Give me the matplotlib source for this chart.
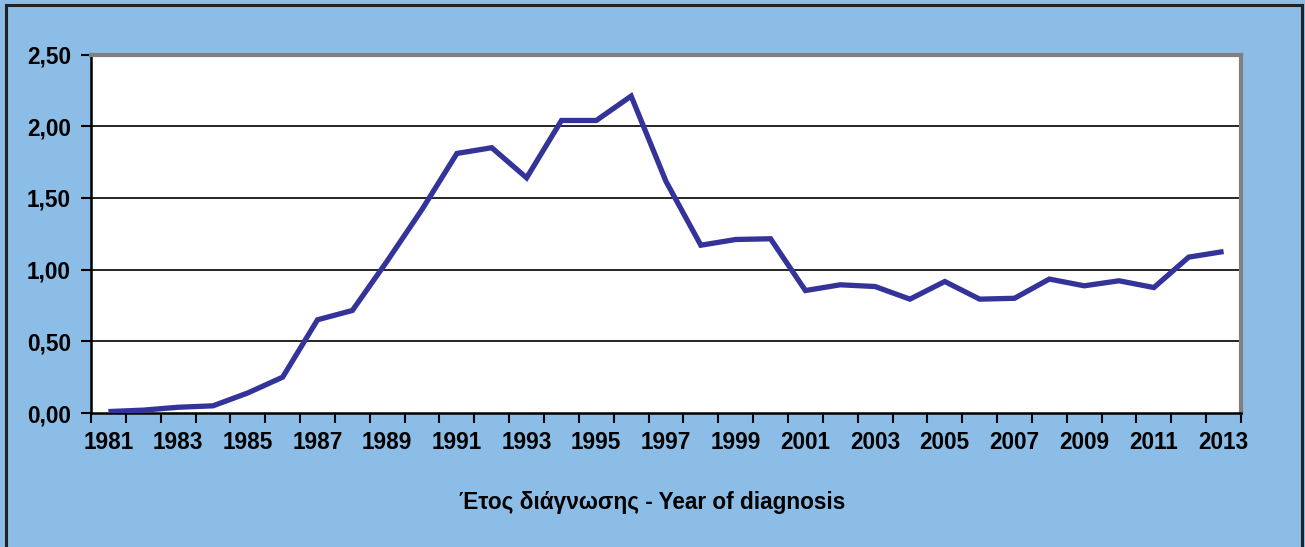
import matplotlib.pyplot as plt
from matplotlib.patches import Rectangle
import numpy as np

years = list(range(1981, 2014))
rates = [0.01, 0.02, 0.04, 0.05, 0.14, 0.25, 0.65, 0.715, 1.06, 1.42,
         1.81, 1.85, 1.64, 2.04, 2.04, 2.21, 1.615, 1.17, 1.21, 1.215,
         0.854, 0.894, 0.882, 0.794, 0.917, 0.794, 0.80, 0.934, 0.887, 0.922,
         0.875, 1.087, 1.126]
y_ticks = [0.0, 0.5, 1.0, 1.5, 2.0, 2.5]
y_labels = ["0,00", "0,50", "1,00", "1,50", "2,00", "2,50"]
x_label = "Έτος διάγνωσης - Year of diagnosis"

bg = "#8BBDE6"
plt.rcParams['font.family'] = ['Liberation Sans', 'DejaVu Sans']
plt.rcParams['font.weight'] = 'bold'

W, H = 1305, 547
fig = plt.figure(figsize=(W / 100, H / 100), dpi=100)
fig.patch.set_facecolor(bg)
# outer frame of the chart area
fig.patches.append(Rectangle((6 / W, -0.05), (1302 - 6) / W, 1.05 - 5 / H,
                             transform=fig.transFigure, fill=False,
                             edgecolor="#222222", linewidth=2.2))

ax = fig.add_axes([91 / W, (H - 413) / H, (1241 - 91) / W, (413 - 54.5) / H])
ax.set_facecolor("white")

for yv in y_ticks[1:]:
    ax.axhline(yv, color="black", linewidth=1.2, zorder=1)

ax.plot(years, rates, color="#333399", linewidth=3.8, zorder=3,
        solid_joinstyle="miter", solid_capstyle="butt")

fs = 16.3
ax.set_xlim(1980.5, 2013.5)
ax.set_ylim(0, 2.5)
ax.set_yticks(y_ticks)
ax.set_yticklabels(y_labels, fontsize=fs, fontweight='bold')
ax.set_xticks(years[::2])
ax.set_xticklabels([str(y) for y in years[::2]], fontsize=fs, fontweight='bold')
ax.set_xticks(np.arange(1980.5, 2014, 1), minor=True)
ax.tick_params(axis='x', which='major', length=0, pad=13)
ax.tick_params(axis='x', which='minor', length=7, width=1.5, direction='out')
ax.tick_params(axis='y', length=7, width=1.5, direction='out', pad=7.5)

for side in ['left', 'bottom']:
    ax.spines[side].set_color("black")
    ax.spines[side].set_linewidth(1.8)
for side in ['top', 'right']:
    ax.spines[side].set_color("#808080")
    ax.spines[side].set_linewidth(3)

fig.text(652 / W, 1 - 503 / H, x_label, ha='center', va='center',
         fontsize=fs, fontweight='bold')

fig.savefig("out.png", dpi=100, facecolor=bg)
